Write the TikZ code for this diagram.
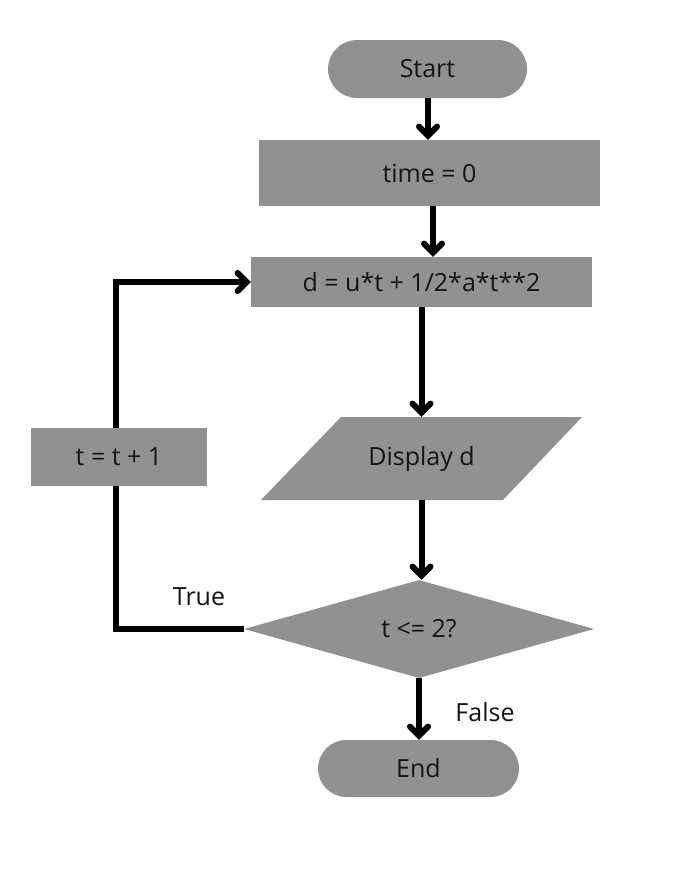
\documentclass[tikz,border=0pt]{standalone}
\usepackage{fontspec}
\setmainfont{Open Sans}
\usetikzlibrary{shapes.geometric,shapes.misc,arrows.meta}
\definecolor{boxgray}{RGB}{145,145,145}
\definecolor{txt}{RGB}{20,20,20}
\begin{document}
\begin{tikzpicture}[x=1pt,y=-1pt,
  box/.style={fill=boxgray,draw=none,inner sep=0pt,text=txt,font=\fontsize{25}{28}\selectfont},
  rect/.style={box,rectangle},
  pill/.style={box,rounded rectangle},
  lab/.style={text=txt,inner sep=0pt,font=\fontsize{25}{28}\selectfont},
  conn/.style={line width=6pt,line join=miter},
  arr/.style={conn,-{Straight Barb[length=9pt,width=18pt,line cap=round]}}]
\useasboundingbox (0,0) rectangle (672,870);
\fill[white] (0,0) rectangle (672,870);
\node[pill,minimum width=199pt,minimum height=58pt] (start) at (427.5,69) {Start};
\node[rect,minimum width=341pt,minimum height=66pt] (time) at (429.5,173) {time = 0};
\node[rect,minimum width=341pt,minimum height=50pt] (d) at (421.5,282) {d = u*t + 1/2*a*t**2};
\fill[boxgray] (341,417) -- (582,417) -- (503,500) -- (261,500) -- cycle;
\node[lab,rectangle,minimum width=241pt,minimum height=83pt] (disp) at (421.5,458.5) {Display d};
\node[box,diamond,minimum width=350pt,minimum height=98pt] (dia) at (419,629) {t <= 2?};
\node[pill,minimum width=201pt,minimum height=57pt] (end) at (418.5,768.5) {End};
\node[rect,minimum width=176pt,minimum height=58pt] (inc) at (119,456.7) {t = t + 1};
\node[lab] (true) at (199,597) {True};
\node[lab] (false) at (485,712) {False};
\coordinate (lb) at (116,629);
\coordinate (lt) at (116,282);
\draw[arr] ([xshift=0.5pt]start.south) -- ([xshift=0.5pt]start.south |- time.north);
\draw[arr] ([xshift=3.5pt]time.south) -- ([xshift=3.5pt]time.south |- d.north);
\draw[arr] (d.south) -- (d.south |- disp.north);
\draw[arr] (disp.south) -- (disp.south |- dia.north);
\draw[arr] (dia.south) -- (dia.south |- end.north);
\draw[conn] (dia.west) -- (lb) -- (lb |- inc.south);
\draw[arr] (lb |- inc.north) -- (lt) -- (d.west);
\end{tikzpicture}
\end{document}
